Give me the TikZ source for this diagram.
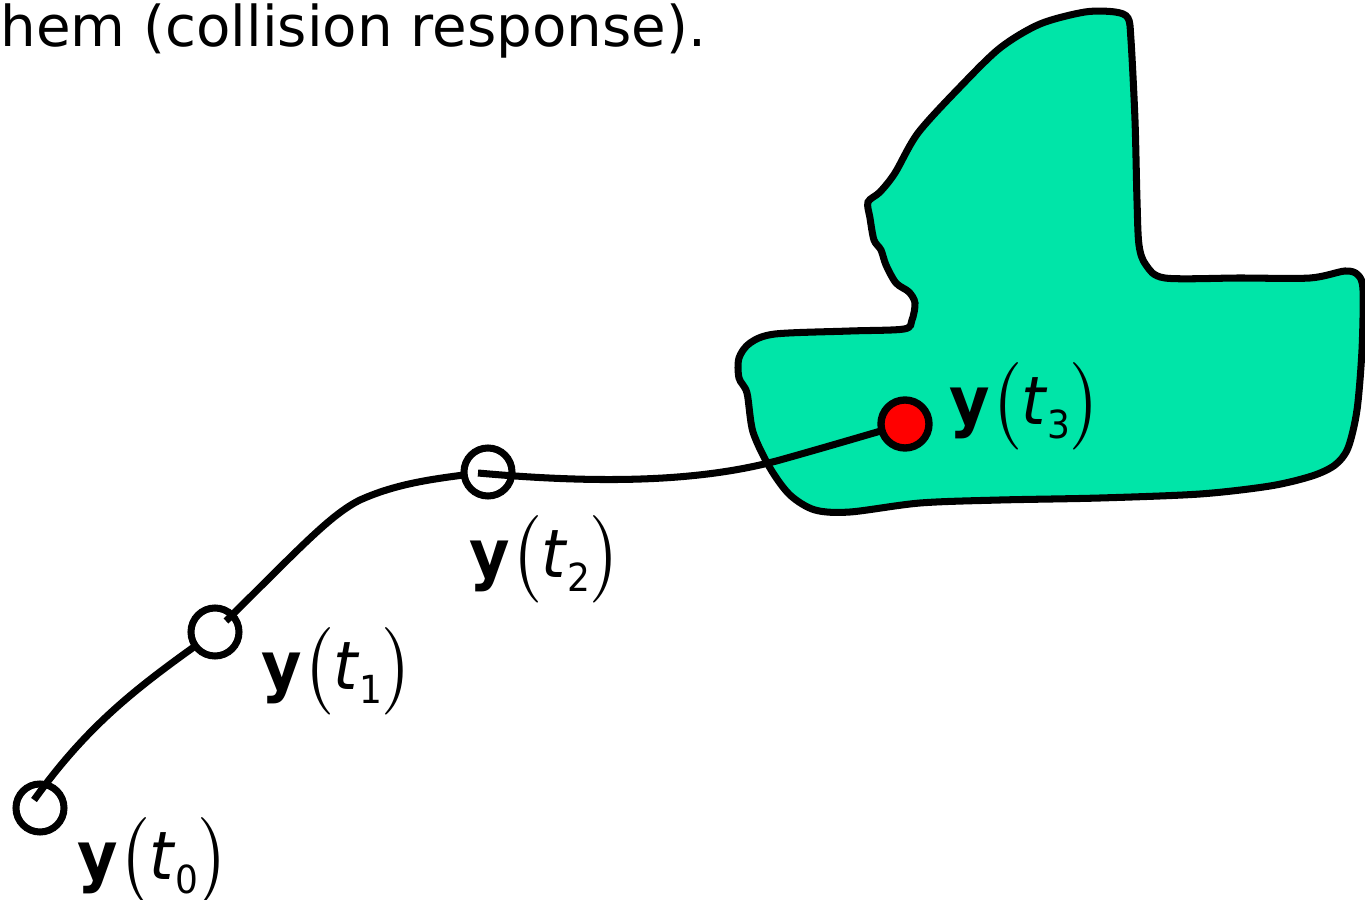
\documentclass[tikz,border=0pt]{standalone}
\usepackage{fontspec}
\setmainfont{DejaVu Sans}
\usepackage{amsmath}
\usetikzlibrary{positioning}
\definecolor{hull}{RGB}{0,229,168}
\newcommand{\yt}[1]{\scalebox{0.93}[1]{\textbf{y}{\fontsize{21}{23}\selectfont$\bigl($}\textit{t}%
  \raisebox{-4pt}{\fontsize{11}{12}\selectfont #1}{\fontsize{21}{23}\selectfont$\bigr)$}}}

\begin{document}
\begin{tikzpicture}[
    x=0.01cm, y=-0.01cm,
    every node/.style={font=\fontsize{19}{21}\selectfont, inner sep=0pt},
    pt/.style  ={circle, draw, line width=2pt, fill=white, minimum size=0.48cm},
    hit/.style ={pt, fill=red, line width=2.1pt},
    traj/.style={line width=2pt},
    body/.style={draw, line width=2pt, fill=hull},
    lbl/.style ={anchor=west},
]
\useasboundingbox (0,0) rectangle (1365,900);
\node[anchor=base west, font=\fontsize{16}{18}\selectfont] (title) at (0,46)
     {hem (collision response).};
% obstacle
\draw[body] plot[smooth cycle, tension=0.5] coordinates {
  (1085,12) (1115,12) (1128,18) (1131,40) (1135,120) (1137,200) (1139,245)
  (1146,265) (1165,278) (1240,278) (1310,278) (1345,271) (1358,275) (1363,290)
  (1362,350) (1357,410) (1348,448) (1335,465) (1312,476) (1270,486) (1200,494)
  (1100,498) (1000,500) (920,503) (850,512) (815,510) (790,495) (770,468)
  (753,432) (747,393) (739,378) (739,358) (750,343) (775,334) (850,331)
  (904,329) (912,320) (915,303) (909,292) (896,283) (886,265) (881,250)
  (874,240) (870,218) (868,202) (880,192) (895,173) (918,133) (960,87)
  (1000,48) (1040,24)};
% trajectory
\node[pt] (y0) at (40,808) {};
\coordinate (s0) at (34,800);
\coordinate (p1) at (215,632);
\draw[traj] (s0) .. controls (90,722) and (140,685) .. (p1);
\node[pt] (y1) at (p1) {};
\coordinate (s1) at (226,621);
\coordinate (p2) at (488,472);
\draw[traj] (s1) .. controls (300,548) and (330,515) .. (360,500)
            .. controls (400,482) and (440,478) .. (p2);
\node[pt] (y2) at (p2) {};
\coordinate (s2) at (478,473);
\coordinate (p3) at (905,424);
\draw[traj] (s2) .. controls (600,484) and (700,482) .. (780,460)
            .. controls (830,446) and (870,434) .. (p3);
\node[hit] (y3) at (p3) {};
% labels
\node[lbl] (l0) at (77,861)  {\yt{0}};
\node[lbl] (l1) at (261,671) {\yt{1}};
\node[lbl] (l2) at (469,559) {\yt{2}};
\node[lbl] (l3) at (949,406) {\yt{3}};
\end{tikzpicture}
\end{document}
